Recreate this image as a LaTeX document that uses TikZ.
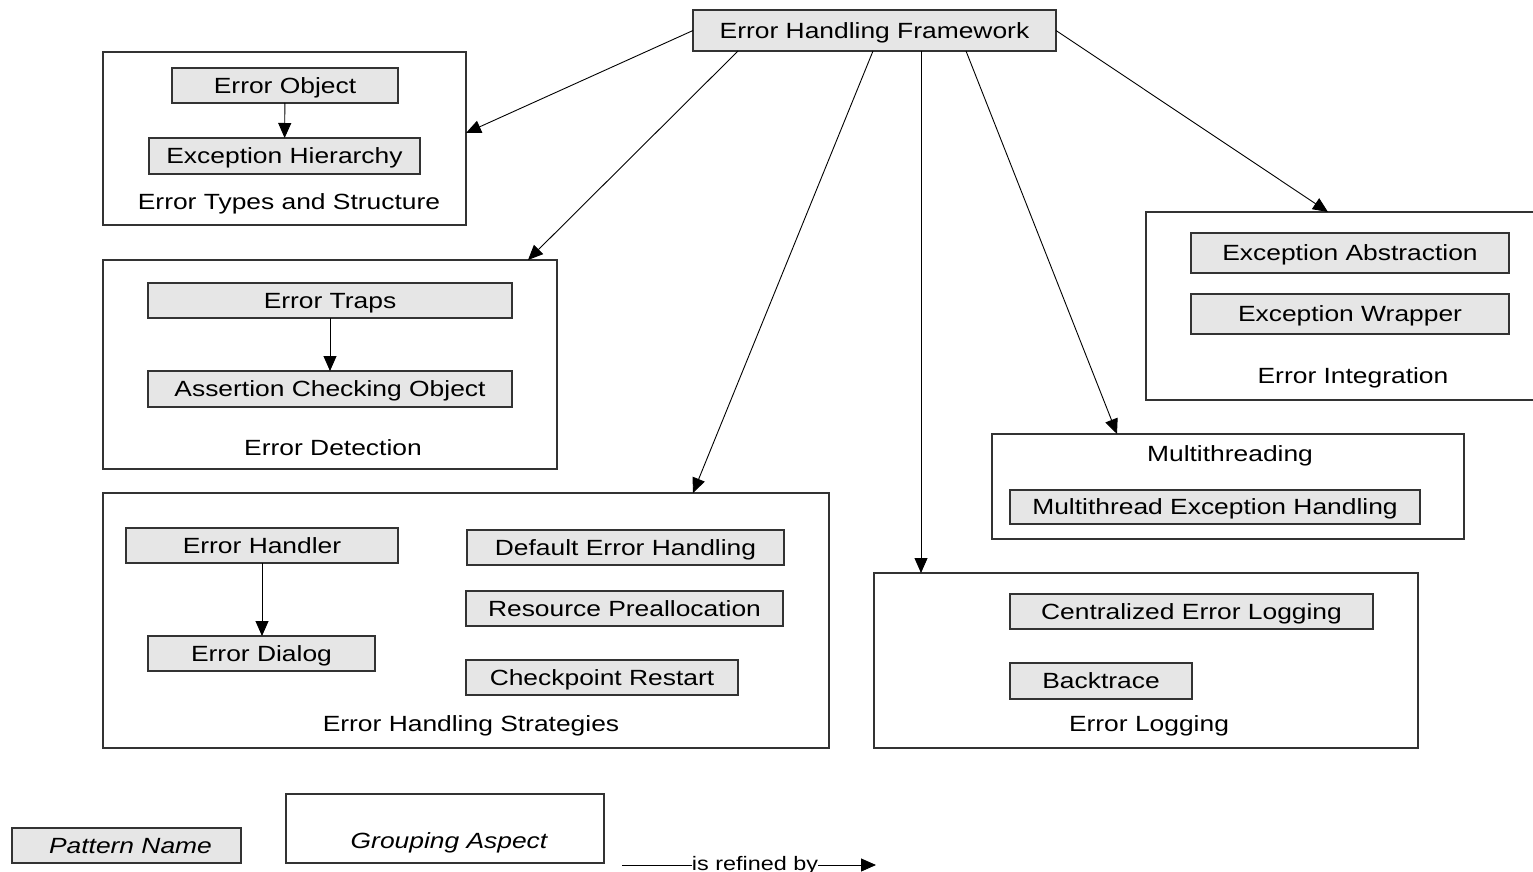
\documentclass[tikz,border=0pt]{standalone}
\usepackage{fontspec}
\setmainfont{Liberation Sans}[FakeStretch=1.2]
\newfontfamily\legendfont{Liberation Sans}[FakeStretch=1.2]
\usetikzlibrary{arrows.meta,calc}
\definecolor{patgray}{HTML}{E6E6E6}
\definecolor{edgegray}{HTML}{333333}
\tikzset{
  pat/.style={draw=edgegray, line width=1.3pt, fill=patgray, inner sep=0pt, outer sep=0pt,
    text height=15.5pt, text depth=0pt},
  grp/.style={draw=edgegray, line width=1.3pt, inner sep=0pt, outer sep=0pt},
  lbl/.style={inner sep=0pt},
  conn/.style={draw=black, line width=0.9pt, -{Triangle[length=15pt,width=13pt]}},
}
% box from its corner coordinates: name, x1, y1, x2, y2, text
\newcommand\patnode[6]{%
  \node[pat, anchor=north west, minimum width={(#4-#2)*1pt}, minimum height={(#5-#3)*1pt}] (#1) at (#2,#3) {#6};}
\newcommand\grpnode[5]{%
  \node[grp, anchor=north west, minimum width={(#4-#2)*1pt}, minimum height={(#5-#3)*1pt}] (#1) at (#2,#3) {};}
\begin{document}
\begin{tikzpicture}[x=1pt, y=-1pt, font=\fontsize{22}{26}\selectfont]
\useasboundingbox (0,0) rectangle (1533,872);

% root pattern
\patnode{ehf}{693}{10}{1056}{51}{Error Handling Framework}

% Error Types and Structure
\grpnode{g1}{103}{52}{466}{225}
\patnode{eo}{172}{68}{398}{103}{Error Object}
\patnode{eh}{149}{138}{420}{174}{Exception Hierarchy}
\node[lbl] (g1l) at (289,204) {Error Types and Structure};
\draw[conn] (eo) -- (eh);

% Error Detection
\grpnode{g2}{103}{260}{557}{469}
\patnode{et}{148}{283}{512}{318}{Error Traps}
\patnode{aco}{148}{371}{512}{407}{Assertion Checking Object}
\node[lbl] (g2l) at (333,448) {Error Detection};
\draw[conn] (et.south -| 330,0) -- (aco.north -| 330,0);

% Error Handling Strategies
\grpnode{g3}{103}{493}{829}{748}
\patnode{ehd}{126}{528}{398}{563}{Error Handler}
\patnode{ed}{148}{636}{375}{671}{Error Dialog}
\patnode{deh}{467}{530}{784}{565}{Default Error Handling}
\patnode{rp}{466}{591}{783}{626}{Resource Preallocation}
\patnode{cr}{466}{660}{738}{695}{Checkpoint Restart}
\node[lbl] (g3l) at (471,726) {Error Handling Strategies};
\draw[conn] (ehd.south -| 262,0) -- (ed.north -| 262,0);

% Error Logging
\grpnode{g5}{874}{573}{1418}{748}
\patnode{cel}{1010}{594}{1373}{629}{Centralized Error Logging}
\patnode{bt}{1010}{663}{1192}{699}{Backtrace}
\node[lbl] (g5l) at (1149,726) {Error Logging};

% Multithreading
\grpnode{g6}{992}{434}{1464}{539}
\node[lbl] (g6l) at (1230,456) {Multithreading};
\patnode{meh}{1010}{490}{1420}{524}{Multithread Exception Handling}

% Error Integration
\grpnode{g7}{1146}{212}{1545}{400}
\patnode{ea}{1191}{233}{1509}{273}{Exception Abstraction}
\patnode{ew}{1191}{294}{1509}{334}{Exception Wrapper}
\node[lbl] (g7l) at (1353,378) {Error Integration};

% refinement of the framework into its aspects
\draw[conn] (ehf.west) -- ($(g1.north east)+(0,81)$);
\draw[conn] ($(ehf.south west)+(45,0)$) -- ($(g2.north west)+(425,0)$);
\draw[conn] ($(ehf.south west)+(180,0)$) -- ($(g3.north west)+(590,0)$);
\draw[conn] ($(ehf.south west)+(228,0)$) -- ($(g5.north west)+(47,0)$);
\draw[conn] ($(ehf.south west)+(273,0)$) -- ($(g6.north west)+(125,0)$);
\draw[conn] (ehf.east) -- ($(g7.north west)+(182,0)$);

% legend
\patnode{pn}{12}{828}{241}{863}{\hspace*{8pt}\legendfont\itshape Pattern Name}
\grpnode{ga}{286}{794}{604}{863}
\node[lbl] (gal) at (449,843) {\legendfont\itshape Grouping Aspect};
\node[lbl, anchor=base, font=\fontsize{19.5}{23}\selectfont] (rb) at (755,870) {\legendfont is refined by};
\coordinate (rbl) at (622,865);
\coordinate (rbr) at (876,865);
\draw[line width=0.9pt] (rbl) -- (rb.west |- rbl);
\draw[conn] (rb.east |- rbr) -- (rbr);
\end{tikzpicture}
\end{document}
